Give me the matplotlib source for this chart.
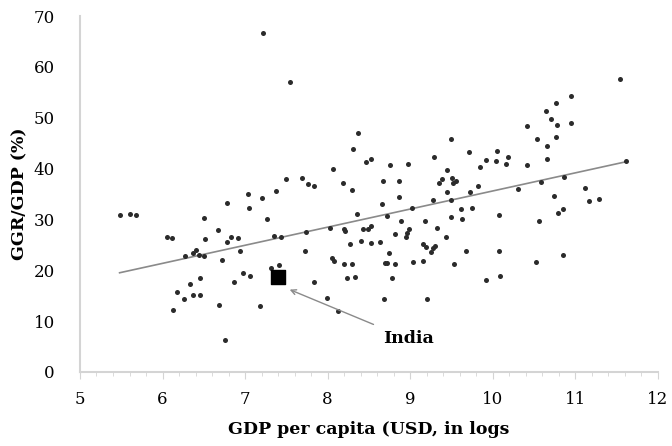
import matplotlib.pyplot as plt
from matplotlib.ticker import MultipleLocator
import numpy as np

# log GDP per capita and GGR/GDP (%) for each country
gdp_log = [
    5.48, 5.61, 5.68, 6.50, 6.78, 7.03, 7.20, 7.38, 7.05, 7.27,
    6.67, 6.06, 6.11, 6.52, 6.78, 6.83, 6.92, 7.35, 7.43, 7.74,
    8.03, 8.20, 8.21, 8.35, 8.27, 6.27, 6.37, 6.40, 6.44, 6.50,
    6.72, 6.94, 7.72, 8.05, 8.08, 8.20, 8.30, 8.23, 8.33, 6.97,
    7.06, 7.31, 7.41, 6.45, 6.33, 6.86, 7.83, 6.17, 6.26, 6.37,
    6.45, 6.13, 6.69, 7.18, 7.99, 8.13, 6.76, 7.22, 7.54, 8.37,
    8.31, 8.07, 8.19, 8.29, 7.49, 7.69, 7.76, 7.84, 8.47, 8.43,
    8.49, 8.41, 8.53, 8.75, 8.97, 9.29, 9.50, 9.71, 10.05, 9.92,
    10.04, 9.84, 9.45, 8.67, 8.87, 8.87, 9.35, 9.38, 9.51, 9.55,
    9.52, 9.45, 9.82, 9.73, 9.50, 9.28, 8.66, 9.02, 9.62, 9.75,
    8.72, 8.89, 9.18, 9.49, 9.63, 10.07, 9.32, 8.53, 8.81, 8.96,
    8.99, 8.95, 9.43, 10.18, 10.16, 10.42, 10.53, 10.65, 10.76, 10.70,
    10.78, 10.95, 10.95, 10.77, 10.66, 10.66, 10.41, 11.54, 11.61, 10.86,
    10.59, 10.31, 11.12, 11.16, 11.29, 10.74, 10.79, 10.85, 10.56, 10.08,
    10.52, 10.85, 10.09, 9.92, 8.52, 8.64, 8.74, 8.70, 8.72, 8.82,
    8.78, 8.68, 9.03, 9.16, 9.16, 9.19, 9.25, 9.28, 9.30, 9.20,
    9.53, 9.67,
]
ggr_gdp = [
    30.9, 31.1, 30.9, 30.3, 33.3, 35.0, 34.3, 35.6, 32.2, 30.0,
    28.0, 26.6, 26.4, 26.1, 25.5, 26.5, 26.3, 26.8, 26.5, 27.6,
    28.4, 28.1, 27.7, 31.1, 25.1, 22.8, 23.3, 24.0, 23.0, 22.9,
    22.0, 23.8, 23.7, 22.4, 21.8, 21.2, 21.2, 18.4, 18.7, 19.5,
    18.9, 20.4, 21.0, 18.4, 17.3, 17.6, 17.6, 15.7, 14.3, 15.2,
    15.1, 12.2, 13.2, 13.0, 14.5, 11.9, 6.3, 66.6, 57.0, 47.0,
    43.8, 40.0, 37.2, 35.8, 38.0, 38.2, 37.0, 36.6, 41.2, 28.1,
    28.2, 25.8, 41.8, 40.8, 40.9, 42.3, 45.8, 43.3, 43.5, 41.7,
    41.5, 40.3, 39.8, 37.6, 37.6, 34.5, 37.2, 37.9, 38.2, 37.6,
    37.1, 35.3, 36.6, 35.3, 33.9, 33.8, 33.0, 32.3, 32.0, 32.2,
    30.7, 29.7, 29.7, 30.4, 30.1, 30.9, 28.4, 28.8, 27.1, 27.4,
    28.2, 26.6, 26.5, 42.3, 41.0, 48.3, 45.9, 51.4, 52.9, 49.8,
    48.5, 54.3, 49.0, 46.3, 44.5, 41.8, 40.8, 57.6, 41.4, 38.3,
    37.3, 35.9, 36.2, 33.6, 34.0, 34.6, 31.2, 32.1, 29.6, 23.7,
    21.7, 23.0, 18.9, 18.1, 25.3, 25.5, 23.3, 21.4, 21.5, 21.2,
    18.5, 14.3, 21.7, 21.8, 25.1, 24.5, 23.5, 24.3, 24.8, 14.4,
    21.2, 23.7,
]

india_x = 7.40
india_y = 18.6

# fitted trend: ggr = slope * gdp + intercept
trend_slope = 3.56
trend_intercept = 0.0
trend_range = [5.48, 11.61]

plt.rcParams['font.family'] = ['DejaVu Serif']

fig = plt.figure(figsize=(6.72, 4.46), dpi=100)
ax = fig.add_axes([0.119, 0.166, 0.86, 0.798])

ax.scatter(gdp_log, ggr_gdp, s=13, color='#2b2b2b', zorder=3, linewidths=0)

tx = np.array(trend_range)
ax.plot(tx, trend_slope * tx + trend_intercept, color='#8a8a8a', linewidth=1.2, zorder=2)

ax.scatter([india_x], [india_y], marker='s', s=90, color='black', zorder=4)
ax.annotate('India', xy=(india_x + 0.14, india_y - 2.4), xytext=(8.67, 6.5),
            fontsize=12.5, fontweight='bold', va='center', ha='left',
            arrowprops=dict(arrowstyle='->', color='#8a8a8a', lw=1.0,
                            shrinkA=6, shrinkB=0, mutation_scale=9))

ax.set_xlim(5, 12)
ax.set_ylim(0, 70)
ax.xaxis.set_major_locator(MultipleLocator(1))
ax.xaxis.set_minor_locator(MultipleLocator(0.2))
ax.yaxis.set_major_locator(MultipleLocator(10))

for side in ['top', 'right']:
    ax.spines[side].set_visible(False)
for side in ['left', 'bottom']:
    ax.spines[side].set_color('#d4d4d4')
    ax.spines[side].set_linewidth(1.5)

ax.tick_params(axis='x', which='major', length=5, color='#d4d4d4', labelsize=12, pad=9)
ax.tick_params(axis='x', which='minor', length=3, color='#d4d4d4')
ax.tick_params(axis='y', length=0, labelsize=12, pad=18)

ax.set_xlabel('GDP per capita (USD, in logs', fontsize=12.5, fontweight='bold', labelpad=9)
ax.set_ylabel('GGR/GDP (%)', fontsize=12.5, fontweight='bold', labelpad=4)

fig.savefig('out.png', dpi=100)
